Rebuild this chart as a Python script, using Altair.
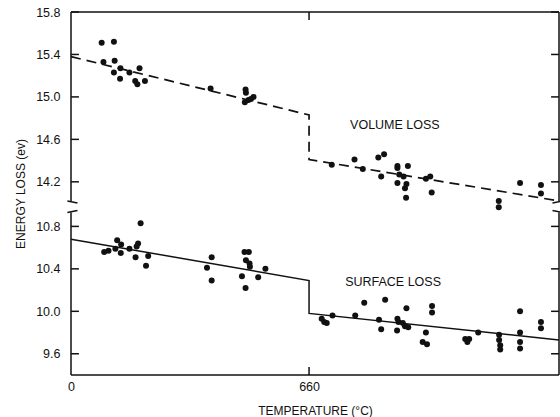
import altair as alt
import pandas as pd

# ---- data ----
S = 2.98            # shift applied to the upper (volume-loss) band to fit the broken axis
X_MAX = 1353
Y_MIN, Y_MAX = 9.4, 15.8 - S

vol_T = [85, 119, 90, 121, 119, 137, 136, 162, 190, 178, 184, 205,
         387, 484, 485, 482, 492, 499, 506,
         723, 786, 809, 852, 868, 860, 905, 905, 934, 910, 922, 905, 930, 926, 929,
         984, 996, 1000, 1186, 1186, 1245, 1303, 1303]
vol_E = [15.51, 15.52, 15.33, 15.34, 15.23, 15.27, 15.17, 15.23, 15.27, 15.15, 15.12, 15.15,
         15.08, 15.07, 15.04, 14.95, 14.97, 14.98, 15.00,
         14.36, 14.41, 14.32, 14.43, 14.46, 14.25, 14.35, 14.33, 14.35, 14.27, 14.25, 14.19,
         14.18, 14.14, 14.05, 14.23, 14.25, 14.10, 14.02, 13.96, 14.19, 14.17, 14.09]

surf_T = [193, 128, 139, 186, 182, 92, 104, 123, 138, 162, 179, 214, 208,
          390, 377, 390, 481, 493, 485, 495, 496, 539, 474, 519, 484,
          695, 702, 709, 725, 788, 813, 871, 854, 860, 905, 930, 908, 920, 926, 935,
          904, 984, 975, 987, 1001, 1001, 1093, 1099, 1104, 1129, 1187, 1187, 1190, 1190,
          1245, 1245, 1245, 1245, 1303, 1303]
surf_E = [10.83, 10.67, 10.63, 10.64, 10.61, 10.56, 10.57, 10.59, 10.55, 10.59, 10.51, 10.52, 10.43,
          10.51, 10.41, 10.29, 10.56, 10.56, 10.48, 10.45, 10.42, 10.40, 10.33, 10.32, 10.22,
          9.93, 9.90, 9.89, 9.96, 9.96, 10.08, 10.11, 9.92, 9.83, 9.93, 10.03, 9.90, 9.89, 9.86,
          9.85, 9.82, 9.80, 9.71, 9.69, 10.05, 9.99, 9.74, 9.71, 9.74, 9.80, 9.78, 9.73, 9.68,
          9.64, 10.00, 9.80, 9.71, 9.65, 9.90, 9.84]

vol_line_T = [0, 660, 660, X_MAX]
vol_line_E = [15.38, 14.83, 14.41, 14.02]
surf_line_T = [0, 660, 660, X_MAX]
surf_line_E = [10.68, 10.29, 9.98, 9.73]

y_ticks_low = [9.6, 10.0, 10.4, 10.8]
y_ticks_up = [14.2, 14.6, 15.0, 15.4, 15.8]
x_ticks = [0, 660]

FONT = "Liberation Sans"

# ---- tables ----
pts = pd.DataFrame({
    "T": vol_T + surf_T,
    "y": [e - S for e in vol_E] + surf_E,
})
vol_line = pd.DataFrame({"T": vol_line_T, "y": [e - S for e in vol_line_E],
                         "o": range(len(vol_line_T))})
surf_line = pd.DataFrame({"T": surf_line_T, "y": surf_line_E,
                          "o": range(len(surf_line_T))})

y_ticks = y_ticks_low + [round(v - S, 3) for v in y_ticks_up]

low_top = 10.93
up_bot = 14.02 - S
tk = 22        # inward tick length in °C units
ty = 0.075     # inward tick length in axis units
frame_rows = [
    (0, X_MAX, Y_MAX, Y_MAX), (0, X_MAX, Y_MIN, Y_MIN),
    (0, 0, Y_MIN, low_top), (0, 0, up_bot, Y_MAX),
    (X_MAX, X_MAX, Y_MIN, low_top), (X_MAX, X_MAX, up_bot, Y_MAX),
    (-10, 18, low_top, low_top + 0.02), (-10, 18, up_bot, up_bot - 0.02),
    (X_MAX - 18, X_MAX + 10, low_top + 0.02, low_top), (X_MAX - 18, X_MAX + 10, up_bot - 0.02, up_bot),
]
for v in y_ticks:
    frame_rows.append((0, tk, v, v))
    frame_rows.append((X_MAX - tk, X_MAX, v, v))
frame_rows.append((660, 660, Y_MIN, Y_MIN + ty))
frame_rows.append((660, 660, Y_MAX - ty, Y_MAX))
frame = pd.DataFrame(frame_rows, columns=["x", "x2", "y", "y2"])

labels = pd.DataFrame({"T": [898, 893], "y": [11.758, 10.277],
                       "text": ["VOLUME LOSS", "SURFACE LOSS"]})

# ---- scales / axes ----
xs = alt.Scale(domain=[0, X_MAX], nice=False, zero=False)
ys = alt.Scale(domain=[Y_MIN, Y_MAX], nice=False, zero=False)

x_axis = alt.Axis(values=x_ticks, ticks=False, domain=False, grid=False,
                  labelFontSize=12.5, labelPadding=5, labelFlush=False,
                  title="TEMPERATURE (°C)", titleFontSize=12, titleFontWeight="normal",
                  titlePadding=13)
y_axis = alt.Axis(values=y_ticks, ticks=False, domain=False, grid=False,
                  labelFontSize=12.5, labelPadding=11,
                  labelExpr=f"datum.value > 11 ? format(datum.value + {S}, '.1f') : format(datum.value, '.1f')",
                  title="ENERGY LOSS (ev)", titleFontSize=12, titleFontWeight="normal",
                  titlePadding=8)

points = alt.Chart(pts).mark_circle(size=36, color="#111", opacity=1).encode(
    x=alt.X("T:Q", scale=xs, axis=x_axis),
    y=alt.Y("y:Q", scale=ys, axis=y_axis),
)

vline = alt.Chart(vol_line).mark_line(color="#111", strokeWidth=1.7, strokeDash=[10, 6]).encode(
    x=alt.X("T:Q", scale=xs), y=alt.Y("y:Q", scale=ys), order="o:Q")
sline = alt.Chart(surf_line).mark_line(color="#111", strokeWidth=1.5).encode(
    x=alt.X("T:Q", scale=xs), y=alt.Y("y:Q", scale=ys), order="o:Q")

frm = alt.Chart(frame).mark_rule(color="#111", strokeWidth=1.5).encode(
    x=alt.X("x:Q", scale=xs), x2="x2:Q", y=alt.Y("y:Q", scale=ys), y2="y2:Q")

txt = alt.Chart(labels).mark_text(font=FONT, fontSize=12.5, color="#111").encode(
    x=alt.X("T:Q", scale=xs), y=alt.Y("y:Q", scale=ys), text="text:N")

chart = alt.layer(frm, vline, sline, points, txt).properties(
    width=488, height=363,
    autosize=alt.AutoSizeParams(type="none"),
    padding={"left": 71, "top": 12, "right": 1, "bottom": 42},
).configure_view(stroke=None).configure_axis(
    labelFont=FONT, titleFont=FONT, labelColor="#111", titleColor="#111"
)

chart.save("out.html", embed_options={"renderer": "svg", "actions": False})
